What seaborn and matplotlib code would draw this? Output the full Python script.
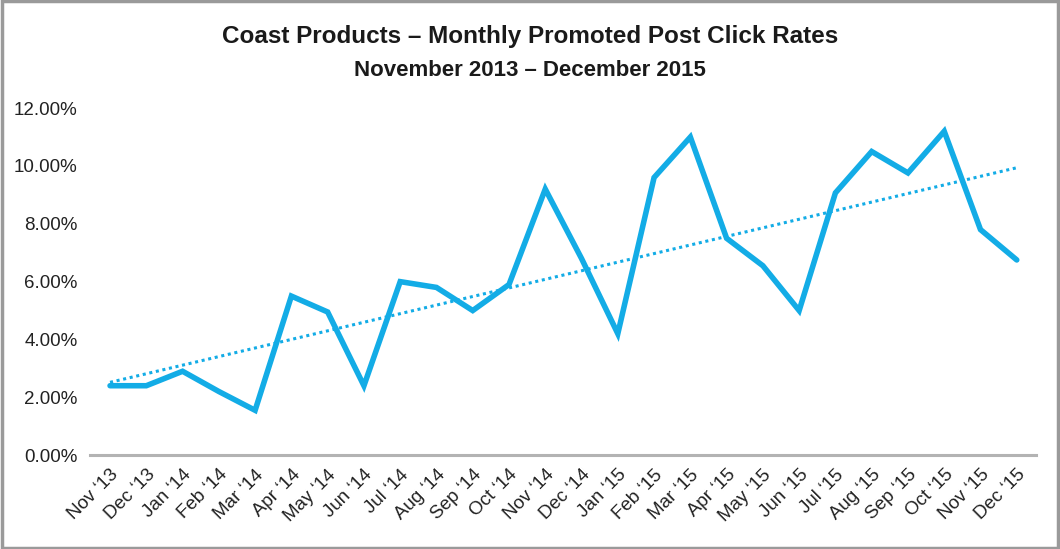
import numpy as np
import pandas as pd
import matplotlib
matplotlib.use("Agg")
import matplotlib.pyplot as plt
import seaborn as sns
from matplotlib.ticker import FuncFormatter

months = ["Nov \u201813", "Dec \u201813", "Jan \u201814", "Feb \u201814", "Mar \u201814", "Apr \u201814",
          "May \u201814", "Jun \u201814", "Jul \u201814", "Aug \u201814", "Sep \u201814", "Oct \u201814",
          "Nov \u201814", "Dec \u201814", "Jan \u201815", "Feb \u201815", "Mar \u201815", "Apr \u201815",
          "May \u201815", "Jun \u201815", "Jul \u201815", "Aug \u201815", "Sep \u201815", "Oct \u201815",
          "Nov \u201815", "Dec \u201815"]
click_rate = [2.4, 2.4, 2.9, 2.2, 1.55, 5.5, 4.95, 2.4, 6.0, 5.8, 5.0, 5.9,
              9.2, 6.8, 4.2, 9.6, 11.0, 7.5, 6.55, 5.0, 9.07, 10.5, 9.76, 11.2,
              7.8, 6.75]
y_ticks = [0, 2, 4, 6, 8, 10, 12]

title = "Coast Products \u2013 Monthly Promoted Post Click Rates"
subtitle = "November 2013 \u2013 December 2015"

sns.set_theme(style="white")
plt.rcParams['font.family'] = ['Liberation Sans', 'DejaVu Sans']

color = "#13ACE6"
df = pd.DataFrame({"pos": np.arange(len(months)), "rate": click_rate})

fig = plt.figure(figsize=(10.6, 5.49), dpi=100)
ax = fig.add_axes([0.085, 0.171, 0.892, 0.632])

sns.regplot(data=df, x="pos", y="rate", scatter=False, ci=None, ax=ax,
            line_kws=dict(color=color, lw=2.2, ls=(0, (1, 1.2))))
sns.lineplot(data=df, x="pos", y="rate", ax=ax, color=color, lw=4.0,
             solid_joinstyle="miter")

ax.set_xlim(-0.55, len(months) - 1 + 0.52)
ax.set_ylim(0, 12)
ax.set_yticks(y_ticks)
ax.yaxis.set_major_formatter(FuncFormatter(lambda v, p: f"{v:.2f}%"))
ax.set_xticks(np.arange(len(months)))
ax.set_xticklabels(months, rotation=45, ha="right", rotation_mode="anchor")
ax.tick_params(axis="y", labelsize=13.5, colors="#222222", length=0, pad=9)
ax.tick_params(axis="x", labelsize=13.5, colors="#222222", length=0, pad=8)
ax.set_xlabel("")
ax.set_ylabel("")
for s in ["top", "right", "left"]:
    ax.spines[s].set_visible(False)
ax.spines["bottom"].set_color("#B3B3B3")
ax.spines["bottom"].set_linewidth(2.2)
ax.grid(False)

fig.text(0.5, 1 - 36 / 549, title, ha="center", va="center", fontsize=17.5,
         fontweight="bold", color="#1a1a1a")
fig.text(0.5, 1 - 71 / 549, subtitle, ha="center", va="center", fontsize=16,
         fontweight="bold", color="#1a1a1a")

border = plt.Rectangle((0.0015, 0.0025), 0.997, 0.995, transform=fig.transFigure,
                       fill=False, edgecolor="#9a9a9a", lw=2.5)
fig.patches.append(border)

fig.savefig("out.png", dpi=100, facecolor="white")
